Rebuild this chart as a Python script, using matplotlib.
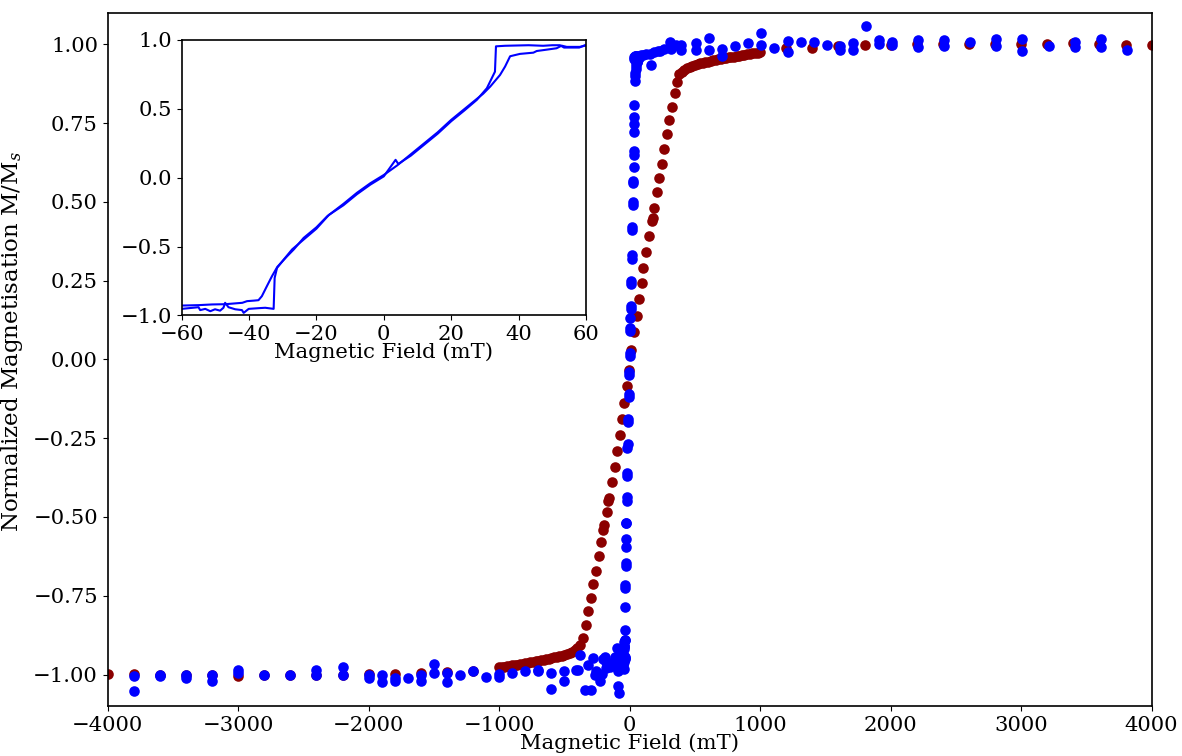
import matplotlib
matplotlib.use("Agg")
import matplotlib.pyplot as plt
import numpy as np

plt.rcParams['font.family'] = 'DejaVu Serif'
plt.rcParams['mathtext.fontset'] = 'dejavuserif'
plt.rcParams['font.size'] = 15.2

# --- slow sweep (dark red): field in mT, normalised magnetisation ---
red_far_H = [-4000, -3800, -3600, -3400, -3200, -3000, -2800, -2600, -2400, -2200,
             -2000, -1800, -1600, -1400, -1200,
             1200, 1400, 1600, 1800, 2000, 2200, 2400, 2600, 2800, 3000,
             3200, 3400, 3600, 3800, 4000]
red_far_M = [-0.998, -0.999, -1.000, -1.003, -1.002, -1.006, -1.002, -1.001, -1.002, -1.000,
             -0.999, -0.997, -0.995, -0.992, -0.988,
             0.988, 0.988, 0.994, 0.996, 0.999, 1.000, 1.000, 1.002, 1.000, 1.002,
             1.001, 1.003, 1.000, 0.999, 0.998]

red_neg_sat_H = [-1000, -980, -960, -940, -920, -900, -880, -860, -840, -820,
                 -800, -780, -760, -740, -720, -700, -680, -660, -640, -620,
                 -600, -580, -560, -540, -520, -500, -480, -460, -440, -420,
                 -400, -380]
red_neg_sat_M = [-0.977, -0.976, -0.975, -0.974, -0.972, -0.971, -0.970, -0.969, -0.968, -0.966,
                 -0.965, -0.963, -0.961, -0.960, -0.958, -0.957, -0.955, -0.953, -0.952, -0.950,
                 -0.948, -0.946, -0.945, -0.942, -0.940, -0.937, -0.934, -0.931, -0.927, -0.922,
                 -0.915, -0.905]

red_pos_sat_H = [380, 400, 420, 440, 460, 480, 500, 520, 540, 560,
                 580, 600, 620, 640, 660, 680, 700, 720, 740, 760,
                 780, 800, 820, 840, 860, 880, 900, 920, 940, 960,
                 980, 1000]
red_pos_sat_M = [0.905, 0.913, 0.919, 0.924, 0.928, 0.931, 0.934, 0.937, 0.939, 0.941,
                 0.943, 0.945, 0.947, 0.949, 0.951, 0.952, 0.954, 0.955, 0.957, 0.958,
                 0.960, 0.961, 0.963, 0.964, 0.966, 0.967, 0.968, 0.970, 0.971, 0.972,
                 0.973, 0.974]

red_mid_H = [-360, -337, -322, -299, -284, -261, -238, -222, -205, -199, -176, -165, -161,
             -138, -115, -100, -77, -61, -46, -23, -8, 10, 31, 54, 69, 92, 100, 123, 146,
             170, 176, 184, 207, 222, 245, 261, 284, 300, 322, 345, 360]
red_mid_M = [-0.885, -0.844, -0.800, -0.758, -0.714, -0.670, -0.625, -0.580, -0.540, -0.525,
             -0.485, -0.450, -0.440, -0.390, -0.340, -0.290, -0.240, -0.190, -0.140, -0.084,
             -0.035, 0.030, 0.087, 0.138, 0.190, 0.243, 0.290, 0.340, 0.390, 0.440, 0.447,
             0.480, 0.530, 0.574, 0.620, 0.667, 0.714, 0.758, 0.800, 0.844, 0.880]

# --- fast sweep (blue): points outside the +-60 mT window ---
blue_out_H = [-3800, -3800, -3600, -3600, -3400, -3400, -3200, -3200, -3000, -3000,
              -2800, -2600, -2400, -2400, -2200, -2200, -2000, -2000, -1900, -1900,
              -1800, -1800, -1700, -1600, -1600, -1500, -1500, -1400, -1400, -1300,
              -1200, -1100, -1000, -1000, -900, -800, -700, -700, -600, -600,
              -500, -500, -408, -396, -383, -345, -319, -295, -281, -268,
              -255, -230, -215, -204, -192, -179, -179, -153, -128, -115,
              -110, -97, -90, -90, -82, -77, -70, -65, -60,
              70, 90, 102, 128, 153, 166, 190, 217, 230, 260,
              307, 319, 358, 396, 396, 511, 511, 608, 608, 710,
              710, 810, 910, 1010, 1010, 1110, 1210, 1210, 1310, 1410,
              1510, 1610, 1610, 1710, 1710, 1810, 1910, 1910, 2010, 2010,
              2210, 2210, 2410, 2410, 2610, 2810, 2810, 3010, 3010, 3210,
              3410, 3410, 3610, 3610, 3810]
blue_out_M = [-1.004, -1.052, -1.006, -1.000, -1.000, -1.010, -1.001, -1.020, -0.985, -0.996,
              -1.003, -1.003, -0.985, -1.003, -0.977, -1.003, -1.003, -1.010, -1.000, -1.024,
              -1.010, -1.020, -1.012, -1.000, -1.022, -0.967, -0.994, -0.994, -1.025, -1.000,
              -0.990, -1.008, -0.998, -1.008, -0.996, -0.990, -0.985, -0.990, -0.996, -1.046,
              -0.990, -1.022, -0.985, -0.985, -0.937, -1.049, -0.969, -1.049, -0.948, -1.000,
              -0.990, -1.022, -0.997, -0.950, -0.943, -0.980, -0.959, -0.975, -0.959, -0.943,
              -0.965, -0.916, -0.990, -1.038, -1.059, -0.943, -0.960, -0.970, -0.930,
              0.955, 0.965, 0.965, 0.970, 0.970, 0.933, 0.975, 0.980, 0.980, 0.985,
              1.007, 0.986, 0.997, 0.997, 0.981, 1.004, 0.983, 1.021, 0.983, 0.986,
              0.963, 0.994, 1.004, 1.036, 0.997, 0.989, 1.010, 0.975, 1.008, 1.007,
              0.998, 0.995, 0.981, 1.005, 0.983, 1.057, 1.014, 1.002, 1.008, 0.997,
              1.013, 0.991, 1.013, 0.994, 1.007, 1.015, 0.994, 1.018, 0.979, 0.994,
              1.007, 0.991, 1.015, 0.991, 0.983]

# --- fast sweep (blue) inside +-60 mT, two branches of the loop ---
loop_a_H = [-60, -55, -51, -47, -44, -42, -40.6, -38.5, -37.2, -36.2, -34.7, -33.2,
            -31.6, -28.7, -26.7, -23.8, -20, -16.8, -12, -8, -4, 0, 4, 8, 12, 16, 20,
            24, 27, 29.5, 31.6, 34.5, 36, 37.5, 40.4, 44.4, 45.4, 48.4, 51.3, 52.8,
            54.3, 58.2, 60]
loop_a_M = [-0.928, -0.925, -0.920, -0.918, -0.912, -0.908, -0.896, -0.892, -0.889, -0.860,
            -0.787, -0.715, -0.647, -0.570, -0.520, -0.437, -0.360, -0.280, -0.190, -0.110,
            -0.040, 0.020, 0.090, 0.170, 0.250, 0.330, 0.420, 0.500, 0.560, 0.610, 0.662,
            0.746, 0.807, 0.882, 0.899, 0.908, 0.920, 0.930, 0.940, 0.959, 0.950, 0.950,
            0.960]

loop_b_H = [-60, -55, -54.5, -53, -51.5, -50.1, -48.6, -47.6, -47.1, -46.1, -44.1, -42.1,
            -41.6, -40.1, -37.2, -35.2, -32.7, -32.4, -31.7, -29.7, -27.2, -23.8, -20,
            -16.3, -12, -8, -4, 0, 3.5, 4.3, 8, 12, 16, 20, 24, 27.6, 30.6, 32.0, 33.0,
            33.3, 36, 39.4, 43, 47.3, 50, 52.3, 53.5, 56, 58, 59.7]
loop_b_M = [-0.952, -0.940, -0.961, -0.952, -0.969, -0.955, -0.965, -0.944, -0.908, -0.940,
            -0.955, -0.961, -0.981, -0.952, -0.947, -0.944, -0.952, -0.727, -0.655, -0.594,
            -0.520, -0.449, -0.370, -0.270, -0.200, -0.120, -0.050, 0.010, 0.130, 0.100,
            0.160, 0.240, 0.320, 0.410, 0.490, 0.565, 0.650, 0.720, 0.770, 0.954, 0.958,
            0.960, 0.962, 0.958, 0.962, 0.962, 0.945, 0.945, 0.945, 0.962]

red_H = red_far_H + red_neg_sat_H + red_mid_H + red_pos_sat_H
red_M = red_far_M + red_neg_sat_M + red_mid_M + red_pos_sat_M
blue_H = blue_out_H + loop_a_H + loop_b_H
blue_M = blue_out_M + loop_a_M + loop_b_M

fig = plt.figure(figsize=(11.82, 7.56), dpi=100)
ax = fig.add_axes([0.0911, 0.0661, 0.8832, 0.9171])
ax.scatter(red_H, red_M, s=58, color='darkred', linewidths=0, zorder=2)
ax.scatter(blue_H, blue_M, s=58, color='blue', linewidths=0, zorder=3)
ax.set_xlim(-4000, 4000)
ax.set_ylim(-1.1, 1.1)
ax.set_xticks(np.arange(-4000, 4001, 1000))
ax.set_yticks([-1.0, -0.75, -0.5, -0.25, 0.0, 0.25, 0.5, 0.75, 1.0])
# two decimals, with a proper minus sign
ax.yaxis.set_major_formatter(
    matplotlib.ticker.FuncFormatter(lambda v, pos: f'{v:.2f}'.replace('-', '\u2212')))
ax.set_xlabel('Magnetic Field (mT)', labelpad=-1)
ax.set_ylabel('Normalized Magnetisation M/M$_s$', fontsize=16.5, labelpad=6)
ax.yaxis.label.set_y(0.526)
for sp in ax.spines.values():
    sp.set_linewidth(1.2)

# inset: zoom on the low-field loop
axin = fig.add_axes([0.1537, 0.5827, 0.3420, 0.3644])
axin.plot(loop_a_H, loop_a_M, color='blue', lw=1.5)
axin.plot(loop_b_H, loop_b_M, color='blue', lw=1.5)
axin.set_xlim(-60, 60)
axin.set_ylim(-1.0, 1.0)
axin.set_xticks(np.arange(-60, 61, 20))
axin.set_yticks([-1.0, -0.5, 0.0, 0.5, 1.0])
axin.set_xlabel('Magnetic Field (mT)', labelpad=-1)
for sp in axin.spines.values():
    sp.set_linewidth(1.2)

fig.savefig('out.png', dpi=100)
